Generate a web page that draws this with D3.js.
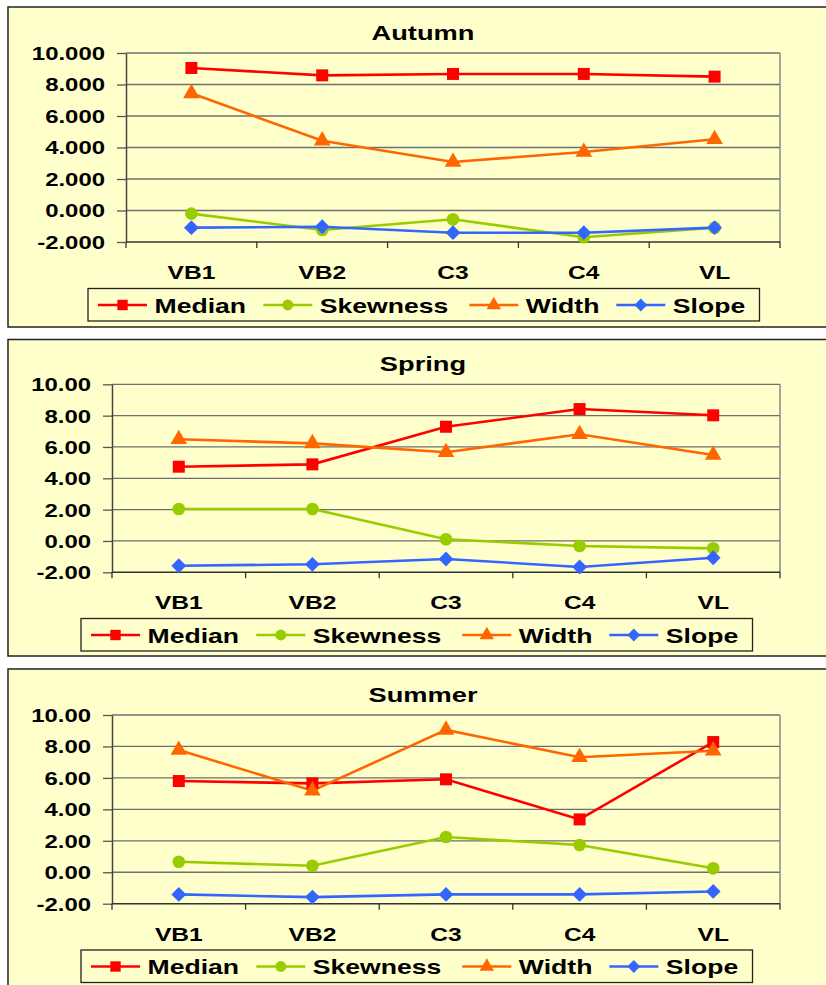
<!DOCTYPE html>
<html>
<head>
<meta charset="utf-8">
<script src="https://cdn.jsdelivr.net/npm/d3@7"></script>
<style>
  body { margin: 0; background: #fff; }
  svg { display: block; font-family: Arial, "Liberation Sans", sans-serif; font-weight: bold; }
</style>
</head>
<body>
<div id="chart"></div>
<script>
// categories and series
const categories = ["VB1", "VB2", "C3", "C4", "VL"];
const seriesNames = ["Median", "Skewness", "Width", "Slope"];
const seriesColors = ["#FF0000", "#99CC00", "#FF6600", "#3366FF"];
const seriesShapes = ["square", "circle", "triangle", "diamond"];
const yTicks = [-2, 0, 2, 4, 6, 8, 10];

// values
const autumnMedian = [9.05, 8.58, 8.67, 8.67, 8.50];
const autumnSkewness = [-0.20, -1.24, -0.56, -1.70, -1.09];
const autumnWidth = [7.44, 4.43, 3.08, 3.71, 4.52];
const autumnSlope = [-1.09, -1.03, -1.41, -1.41, -1.09];

const springMedian = [4.74, 4.89, 7.29, 8.42, 8.02];
const springSkewness = [2.04, 2.04, 0.11, -0.32, -0.47];
const springWidth = [6.49, 6.23, 5.66, 6.81, 5.49];
const springSlope = [-1.58, -1.49, -1.15, -1.66, -1.07];

const summerMedian = [5.80, 5.65, 5.91, 3.36, 8.28];
const summerSkewness = [0.67, 0.41, 2.24, 1.73, 0.25];
const summerWidth = [7.77, 5.19, 9.05, 7.31, 7.73];
const summerSlope = [-1.41, -1.58, -1.41, -1.41, -1.22];

const W = 826, H = 985;
const sx = 1.33; // the original text is stretched horizontally

const panels = [
  { title: "Autumn", series: [autumnMedian, autumnSkewness, autumnWidth, autumnSlope], decimals: 3,
    top: 7, bottom: 327, plotLeft: 126, plotTop: 53, plotBottom: 242, legendLeft: 88, legendTop: 288.5 },
  { title: "Spring", series: [springMedian, springSkewness, springWidth, springSlope], decimals: 2,
    top: 339.5, bottom: 656, plotLeft: 112, plotTop: 384.3, plotBottom: 572.3, legendLeft: 81, legendTop: 618.5 },
  { title: "Summer", series: [summerMedian, summerSkewness, summerWidth, summerSlope], decimals: 2,
    top: 669, bottom: 1000, plotLeft: 112, plotTop: 715, plotBottom: 903.7, legendLeft: 81, legendTop: 950 }
];

const svg = d3.select("#chart").append("svg")
  .attr("width", W)
  .attr("height", H);

function symbolPath(shape, scale) {
  const types = { square: [d3.symbolSquare, 144], circle: [d3.symbolCircle, 125],
                  triangle: [d3.symbolTriangle, 120], diamond: [d3.symbolSquare, 110] };
  const t = types[shape];
  return d3.symbol().type(t[0]).size(t[1] * scale)();
}

function drawPanel(p) {
  const g = svg.append("g");

  g.append("rect")
    .attr("x", 8).attr("y", p.top)
    .attr("width", 840).attr("height", p.bottom - p.top)
    .attr("fill", "#FFFFCC")
    .attr("stroke", "#222")
    .attr("stroke-width", 1.5);

  const x = d3.scaleBand().domain(categories).range([p.plotLeft, 780]);
  const y = d3.scaleLinear().domain([-2, 10]).range([p.plotBottom, p.plotTop]);

  // gridlines
  g.append("g").selectAll("line")
    .data(yTicks.slice(1))
    .join("line")
    .attr("x1", p.plotLeft).attr("x2", 780)
    .attr("y1", d => y(d)).attr("y2", d => y(d))
    .attr("stroke", "#6e6e6e")
    .attr("stroke-width", 1.3);

  // right border of plot area
  g.append("line")
    .attr("x1", 780).attr("x2", 780)
    .attr("y1", p.plotTop).attr("y2", p.plotBottom)
    .attr("stroke", "#8a8a8a").attr("stroke-width", 1.5);

  // y axis
  const fmt = d => d3.format("." + p.decimals + "f")(d).replace("\u2212", "-");
  const yAxis = g.append("g")
    .attr("transform", `translate(${p.plotLeft},0)`)
    .call(d3.axisLeft(y).tickValues(yTicks).tickSize(9).tickSizeOuter(0).tickFormat(fmt));
  yAxis.select(".domain").attr("stroke", "#444").attr("stroke-width", 1.5);
  yAxis.selectAll(".tick line").attr("stroke", "#555").attr("stroke-width", 1.3);
  yAxis.selectAll(".tick text")
    .attr("x", -21 / sx)
    .attr("dy", "0.36em")
    .attr("transform", `scale(${sx},1)`)
    .attr("font-size", 18)
    .attr("font-family", "Arial, 'Liberation Sans', sans-serif")
    .attr("font-weight", "bold")
    .attr("fill", "#000");

  // x axis: ticks at band boundaries, labels at centres
  const bounds = categories.map(c => x(c)).concat([x.range()[1]]);
  g.append("line")
    .attr("x1", p.plotLeft).attr("x2", 780)
    .attr("y1", p.plotBottom).attr("y2", p.plotBottom)
    .attr("stroke", "#333").attr("stroke-width", 1.5);
  g.append("g").selectAll("line")
    .data(bounds)
    .join("line")
    .attr("x1", d => d).attr("x2", d => d)
    .attr("y1", p.plotBottom).attr("y2", p.plotBottom + 6)
    .attr("stroke", "#333").attr("stroke-width", 1.3);
  g.append("g").selectAll("text")
    .data(categories)
    .join("text")
    .attr("transform", d => `translate(${x(d) + x.bandwidth() / 2},${p.plotBottom + 37}) scale(${sx},1)`)
    .attr("text-anchor", "middle")
    .attr("font-size", 18.5)
    .text(d => d);

  // title
  g.append("text")
    .attr("transform", `translate(423,${p.plotTop - 13}) scale(${sx},1)`)
    .attr("text-anchor", "middle")
    .attr("font-size", 20.5)
    .text(p.title);

  // series
  const line = d3.line()
    .x((d, i) => x(categories[i]) + x.bandwidth() / 2)
    .y(d => y(d));

  p.series.forEach((vals, si) => {
    g.append("path")
      .datum(vals)
      .attr("fill", "none")
      .attr("stroke", seriesColors[si])
      .attr("stroke-width", 2.6)
      .attr("d", line);
  });
  p.series.forEach((vals, si) => {
    g.append("g").selectAll("path")
      .data(vals)
      .join("path")
      .attr("d", symbolPath(seriesShapes[si], 1))
      .attr("transform", (d, i) => `translate(${x(categories[i]) + x.bandwidth() / 2},${y(d)})` +
        (seriesShapes[si] === "diamond" ? " rotate(45)" : ""))
      .attr("fill", seriesColors[si]);
  });

  // legend
  const lg = g.append("g").attr("transform", `translate(${p.legendLeft},${p.legendTop})`);
  lg.append("rect")
    .attr("width", 671.5).attr("height", 32.5)
    .attr("fill", "#FFFFCC")
    .attr("stroke", "#222").attr("stroke-width", 1.3);
  const offsets = [10, 175.3, 381.3, 528.3];
  seriesNames.forEach((name, si) => {
    const it = lg.append("g").attr("transform", `translate(${offsets[si]},16.5)`);
    it.append("line")
      .attr("x1", 0).attr("x2", 49)
      .attr("stroke", seriesColors[si]).attr("stroke-width", 2.6);
    it.append("path")
      .attr("d", symbolPath(seriesShapes[si], 0.75))
      .attr("transform", "translate(24.5,0)" + (seriesShapes[si] === "diamond" ? " rotate(45)" : ""))
      .attr("fill", seriesColors[si]);
    it.append("text")
      .attr("transform", `translate(56.5,7.5) scale(${sx},1)`)
      .attr("font-size", 20)
      .text(name);
  });
}

panels.forEach(drawPanel);
</script>
</body>
</html>
